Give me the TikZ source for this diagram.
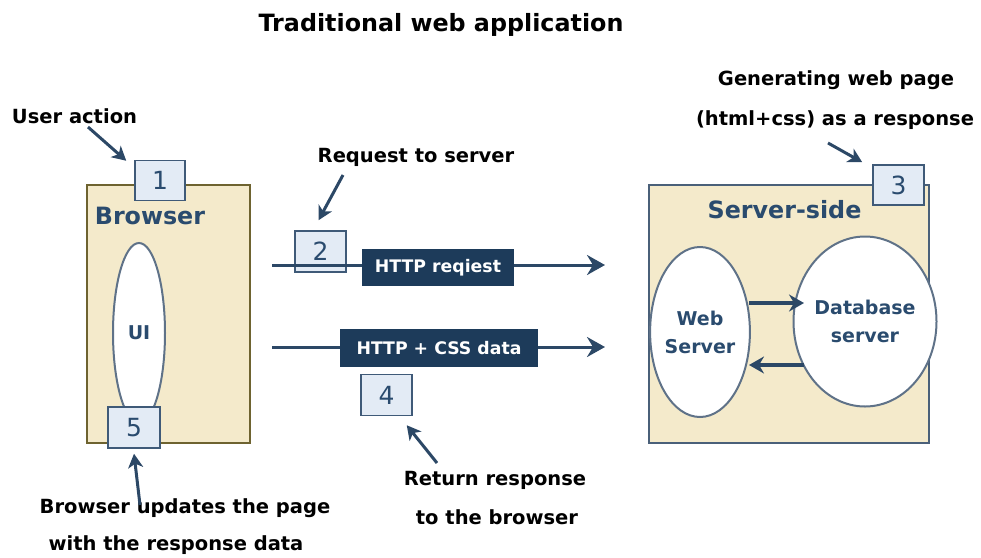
\documentclass[tikz,border=0pt]{standalone}
\usepackage{fontspec}
\usetikzlibrary{arrows.meta,shapes.geometric}
\newfontfamily\lab{DejaVu Sans Bold}
\newfontfamily\ttl{DejaVu Sans Bold}
\newfontfamily\dig{DejaVu Sans}
\definecolor{navy}{HTML}{1D3B5A}
\definecolor{arrowc}{HTML}{2C4866}
\definecolor{boxfill}{HTML}{E3EBF5}
\definecolor{boxline}{HTML}{3F5A78}
\definecolor{panelfill}{HTML}{F4EACB}
\definecolor{browserline}{HTML}{6E6330}
\definecolor{serverline}{HTML}{4A6079}
\definecolor{txtblue}{HTML}{2A4B6E}
\definecolor{ellc}{HTML}{5F7288}
\begin{document}
\begin{tikzpicture}[x=1pt,y=-1pt,
  numbox/.style={draw=boxline, fill=boxfill, line width=1.5pt, minimum width=51pt,
    minimum height=41pt, inner sep=0pt, text=txtblue, font=\dig\fontsize{25}{25}\selectfont},
  note/.style={inner sep=0pt, text=black, font=\lab\fontsize{19.5}{22}\selectfont},
  panel/.style={fill=panelfill, line width=1.5pt, inner sep=0pt},
  oval/.style={ellipse, draw=ellc, fill=white, line width=2pt, inner sep=0pt, align=center,
    text=txtblue, font=\lab\fontsize{19}{28}\selectfont},
  ann/.style={draw=arrowc, line width=3pt, -{Stealth[length=14pt,width=15pt,inset=4pt]}},
  mainarrow/.style={draw=arrowc, line width=3pt, -{Stealth[length=18pt,width=20pt,inset=6pt]}},
  inarrow/.style={draw=arrowc, line width=3.5pt, -{Stealth[length=15pt,width=17pt,inset=5pt]}},
  tag/.style={fill=navy, text=white, inner sep=0pt, font=\lab\fontsize{17.3}{19}\selectfont},
  paneltitle/.style={inner sep=0pt, text=txtblue, font=\lab\fontsize{23.8}{26}\selectfont}]
\useasboundingbox (0,0) rectangle (981,557);

% title
\node[inner sep=0pt, font=\ttl\fontsize{23.8}{26}\selectfont] (title) at (441,25) {Traditional web application};

% browser panel
\node[panel, draw=browserline, minimum width=163pt, minimum height=258pt] (browser) at (168.5,314) {};
\node[oval, minimum width=52pt, minimum height=180pt] (ui) at (139,333) {UI};
\node[paneltitle] (browsertitle) at (150,216) {Browser};
\node[numbox, minimum width=50pt, minimum height=40pt] (b1) at (160,180.5) {1};
\node[numbox, minimum width=52pt] (b5) at (134,427.5) {5};

% server panel
\node[panel, draw=serverline, minimum width=280pt, minimum height=258pt] (server) at (789,314) {};
\node[paneltitle] (servertitle) at (784.5,210) {Server-side};
\node[oval, minimum width=91pt, minimum height=170pt] (ws) at (700,332) {Web\\Server};
\node[oval, minimum width=116pt, minimum height=170pt] (db) at (865,321.5) {Database\\server};
\node[numbox, minimum height=40pt] (b3) at (898.5,185) {3};
\coordinate (p1) at (749,303);
\coordinate (p2) at (804,303);
\coordinate (p3) at (804,365);
\coordinate (p4) at (749,365);
\draw[inarrow] (p1) -- (p2);
\draw[inarrow] (p3) -- (p4);

% messages
\node[numbox] (b2) at (320.5,251.5) {2};
\coordinate (r1) at (272,265);
\coordinate (r2) at (605,265);
\coordinate (s1) at (272,347);
\coordinate (s2) at (605,347);
\draw[mainarrow] (r1) -- (r2);
\draw[mainarrow] (s1) -- (s2);
\node[tag, minimum width=152pt, minimum height=37pt] (req) at (438,267.5) {HTTP reqiest};
\node[tag, minimum width=198pt, minimum height=38pt] (resp) at (439,348) {HTTP + CSS data};
\node[numbox] (b4) at (386.5,395) {4};

% notes
\node[note] (n1) at (74.5,116) {User action};
\node[note] (n2) at (416,157) {Request to server};
\node[note] (n3a) at (836,80) {Generating web page};
\node[note] (n3b) at (835,120) {(html+css) as a response};
\node[note] (n4a) at (495,480) {Return response};
\node[note] (n4b) at (497,517) {to the browser};
\node[note] (n5a) at (185,508) {Browser updates the page};
\node[note] (n5b) at (176,545) {with the response data};

\coordinate (c1) at (88,127);
\coordinate (c2) at (343,175);
\coordinate (c3) at (828,143);
\coordinate (c4) at (437,463);
\coordinate (c5) at (140,505);
\draw[ann] (c1) -- ([xshift=-8pt,yshift=-1pt]b1.north west);
\draw[ann] (c2) -- ([xshift=-2pt,yshift=10pt]b2.north);
\draw[ann] (c3) -- ([xshift=-10pt,yshift=2pt]b3.north west);
\draw[ann] (c4) -- ([xshift=-6pt,yshift=-9pt]b4.south east);
\draw[ann] (c5) -- ([yshift=-5pt]b5.south);
\end{tikzpicture}
\end{document}
